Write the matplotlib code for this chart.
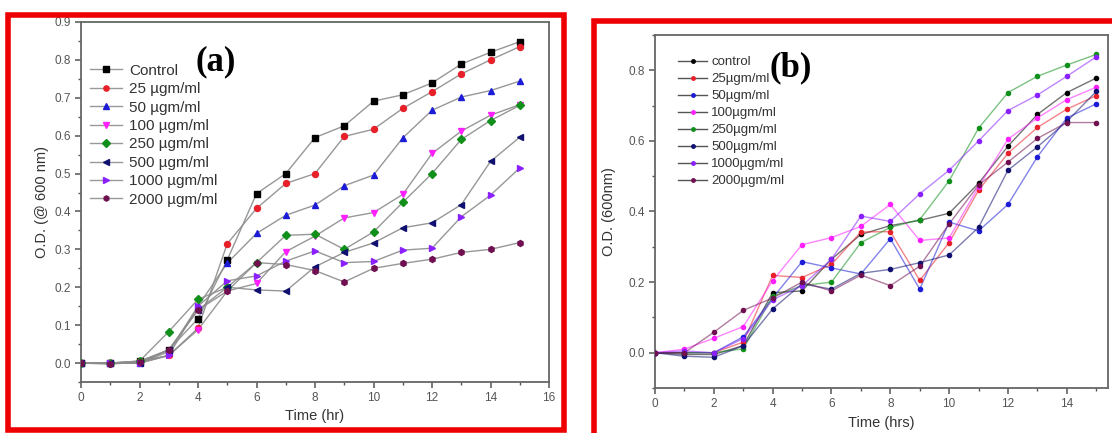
import numpy as np
import matplotlib
matplotlib.use("Agg")
import matplotlib.pyplot as plt
from matplotlib.patches import Rectangle
from matplotlib.ticker import MultipleLocator

plt.rcParams["font.family"] = ["Liberation Sans", "DejaVu Sans"]

# 时间点
hours = list(range(16))

# (a) 数据
labels_a = ["Control", "25 \u00b5gm/ml", "50 \u00b5gm/ml", "100 \u00b5gm/ml",
            "250 \u00b5gm/ml", "500 \u00b5gm/ml", "1000 \u00b5gm/ml", "2000 \u00b5gm/ml"]
a_control = [0, 0, 0.005, 0.035, 0.117, 0.272, 0.447, 0.5, 0.595, 0.626, 0.691, 0.708, 0.739, 0.789, 0.82, 0.848]
a_25 = [0, 0, 0.005, 0.02, 0.092, 0.315, 0.408, 0.474, 0.5, 0.598, 0.617, 0.672, 0.716, 0.763, 0.8, 0.835]
a_50 = [0, 0, 0, 0.03, 0.15, 0.264, 0.342, 0.39, 0.417, 0.468, 0.496, 0.594, 0.667, 0.702, 0.719, 0.744]
a_100 = [0, 0, 0, 0.02, 0.088, 0.19, 0.21, 0.294, 0.335, 0.383, 0.397, 0.445, 0.553, 0.612, 0.654, 0.682]
a_250 = [0, 0, 0.005, 0.083, 0.168, 0.2, 0.265, 0.337, 0.34, 0.3, 0.346, 0.424, 0.5, 0.59, 0.64, 0.68]
a_500 = [0, 0, 0, 0.035, 0.14, 0.2, 0.193, 0.19, 0.254, 0.292, 0.317, 0.357, 0.37, 0.418, 0.532, 0.596]
a_1000 = [0, 0, 0, 0.02, 0.15, 0.217, 0.23, 0.269, 0.296, 0.265, 0.268, 0.298, 0.303, 0.386, 0.443, 0.515]
a_2000 = [0, -0.003, 0.003, 0.035, 0.14, 0.19, 0.265, 0.26, 0.244, 0.214, 0.25, 0.263, 0.274, 0.292, 0.3, 0.318]

# (b) 数据
labels_b = ["control", "25\u00b5gm/ml", "50\u00b5gm/ml", "100\u00b5gm/ml",
            "250\u00b5gm/ml", "500\u00b5gm/ml", "1000\u00b5gm/ml", "2000\u00b5gm/ml"]
b_control = [0, -0.005, -0.005, 0.02, 0.17, 0.175, 0.265, 0.335, 0.36, 0.375, 0.395, 0.48, 0.585, 0.675, 0.737, 0.778]
b_25 = [0, 0, 0, 0.03, 0.219, 0.213, 0.25, 0.342, 0.343, 0.205, 0.312, 0.46, 0.565, 0.638, 0.69, 0.728]
b_50 = [0, 0, 0, 0.045, 0.155, 0.258, 0.24, 0.223, 0.323, 0.18, 0.37, 0.345, 0.42, 0.555, 0.665, 0.705]
b_100 = [0, 0.01, 0.041, 0.074, 0.204, 0.306, 0.326, 0.358, 0.42, 0.318, 0.325, 0.47, 0.605, 0.665, 0.717, 0.752]
b_250 = [0, 0, 0, 0.011, 0.16, 0.19, 0.2, 0.312, 0.355, 0.377, 0.487, 0.636, 0.737, 0.783, 0.815, 0.845]
b_500 = [0, -0.01, -0.013, 0.02, 0.124, 0.195, 0.18, 0.225, 0.236, 0.255, 0.277, 0.355, 0.517, 0.583, 0.655, 0.74]
b_1000 = [0, 0.005, 0, 0.04, 0.15, 0.19, 0.265, 0.387, 0.372, 0.45, 0.517, 0.6, 0.686, 0.73, 0.783, 0.838]
b_2000 = [0, 0, 0.058, 0.12, 0.155, 0.2, 0.175, 0.22, 0.19, 0.245, 0.365, 0.475, 0.54, 0.607, 0.652, 0.652]

colors = ["#000000", "#e8202a", "#1c1cd8", "#ff20ff", "#10901a", "#101070", "#8a20ff", "#701050"]
markers_a = ["s", "o", "^", "v", "D", "<", ">", "h"]

W, H = 1112, 433
fig = plt.figure(figsize=(W / 100, H / 100), dpi=100)
fig.patch.set_facecolor("white")


def style_axes(ax):
    for s in ax.spines.values():
        s.set_color("#666666")
        s.set_linewidth(1.3)
    ax.tick_params(which="both", direction="out", colors="#555555", top=False, right=False)
    ax.tick_params(which="major", length=4, width=1.1, labelsize=8.5, labelcolor="#555555")
    ax.tick_params(which="minor", length=2.5, width=1.0)


# ---- (a) ----
ax1 = fig.add_axes([81 / W, 1 - 382 / H, 468 / W, 360 / H])
series_a = [a_control, a_25, a_50, a_100, a_250, a_500, a_1000, a_2000]
for ys, lab, c, m in zip(series_a, labels_a, colors, markers_a):
    ax1.plot(hours, ys, color="#8c8c8c", lw=1.0, alpha=0.9, zorder=2)
    ax1.plot(hours, ys, ls="none", marker=m, ms=4.3 if m != "D" else 3.8,
             color=c, mec=c, zorder=3)
    ax1.plot([], [], color="#999999", lw=1.0, marker=m, ms=3.8, mfc=c, mec=c, label=lab)
ax1.set_xlim(0, 16)
ax1.set_ylim(-0.05, 0.9)
ax1.xaxis.set_major_locator(MultipleLocator(2))
ax1.xaxis.set_minor_locator(MultipleLocator(1))
ax1.yaxis.set_major_locator(MultipleLocator(0.1))
ax1.yaxis.set_minor_locator(MultipleLocator(0.05))
ax1.yaxis.set_major_formatter(matplotlib.ticker.FormatStrFormatter("%.1f"))
style_axes(ax1)
ax1.set_xlabel("Time (hr)", fontsize=10.5, color="#333333", labelpad=3)
ax1.set_ylabel("O.D. (@ 600 nm)", fontsize=10.5, color="#333333", labelpad=4)
ax1.legend(loc="upper left", bbox_to_anchor=(0.019, 0.884), frameon=False,
           fontsize=11, handlelength=2.1, handletextpad=0.45, labelspacing=0.29,
           borderpad=0, borderaxespad=0, labelcolor="#333333")

# ---- (b) ----
ax2 = fig.add_axes([655 / W, 1 - 388 / H, 453 / W, 353 / H])
series_b = [b_control, b_25, b_50, b_100, b_250, b_500, b_1000, b_2000]
for ys, lab, c in zip(series_b, labels_b, colors):
    ax2.plot(hours, ys, color=c, lw=1.0, alpha=0.55, zorder=2)
    ax2.plot(hours, ys, ls="none", marker="o", ms=3, color=c, zorder=3)
    ax2.plot([], [], color="#555555", lw=1.0, marker="o", ms=2.5, mfc=c, mec=c, label=lab)
ax2.set_xlim(0, 15.4)
ax2.set_ylim(-0.1, 0.9)
ax2.xaxis.set_major_locator(MultipleLocator(2))
ax2.xaxis.set_minor_locator(MultipleLocator(1))
ax2.yaxis.set_major_locator(MultipleLocator(0.2))
ax2.yaxis.set_minor_locator(MultipleLocator(0.1))
ax2.yaxis.set_major_formatter(matplotlib.ticker.FormatStrFormatter("%.1f"))
style_axes(ax2)
ax2.set_xlabel("Time (hrs)", fontsize=10.5, color="#333333", labelpad=4)
ax2.set_ylabel("O.D. (600nm)", fontsize=10.5, color="#333333", labelpad=9)
ax2.legend(loc="upper left", bbox_to_anchor=(0.051, 0.94), frameon=False,
           fontsize=9.5, handlelength=2.2, handletextpad=0.3, labelspacing=0.36,
           borderpad=0, borderaxespad=0, labelcolor="#333333")

# 标签 (a) (b)
fig.text(216 / W, 1 - 62 / H, "(a)", fontsize=25, fontweight="bold",
         family="Liberation Serif", ha="center", va="center")
fig.text(791 / W, 1 - 68 / H, "(b)", fontsize=25, fontweight="bold",
         family="Liberation Serif", ha="center", va="center")

# 红色边框
fig.add_artist(Rectangle((8 / W, 1 - 430 / H), 556 / W, 415 / H, transform=fig.transFigure,
                         fill=False, ec="#ee0000", lw=4))
fig.add_artist(Rectangle((594 / W, 1 - 440 / H), 540 / W, 419 / H, transform=fig.transFigure,
                         fill=False, ec="#ee0000", lw=4))

fig.savefig("out.png", dpi=100)
